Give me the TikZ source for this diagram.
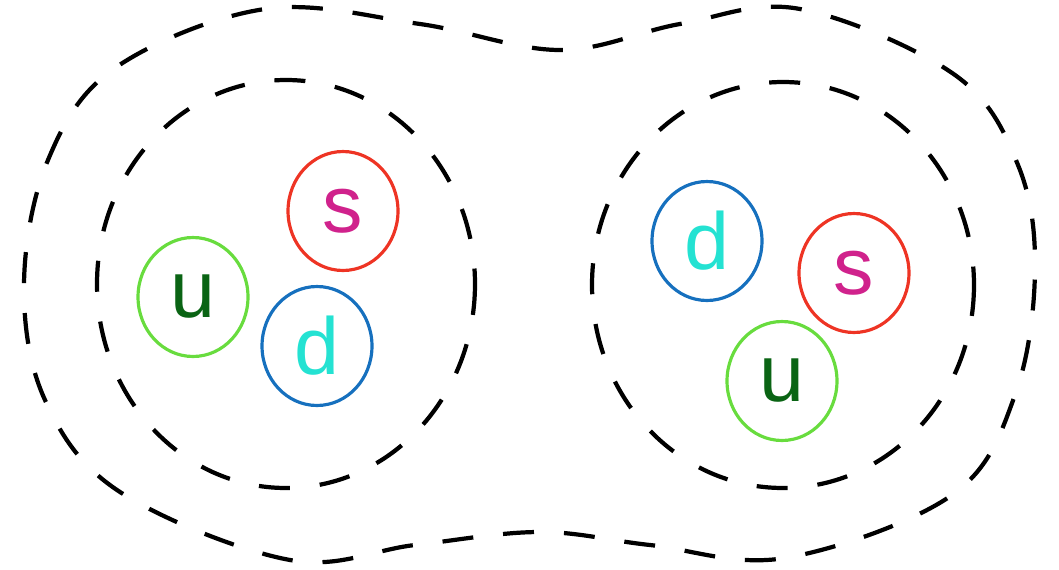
\documentclass[tikz,border=0pt]{standalone}
\usepackage{fontspec}
\setmainfont{Liberation Sans}
\usetikzlibrary{shapes.geometric}
\definecolor{ringred}{RGB}{238,52,36}
\definecolor{ringblue}{RGB}{22,112,190}
\definecolor{ringgreen}{RGB}{104,220,62}
\definecolor{textmag}{RGB}{208,34,140}
\definecolor{textcyan}{RGB}{36,226,210}
\definecolor{textgreen}{RGB}{10,100,20}

\begin{document}
\begin{tikzpicture}[
  x=0.02cm, y=-0.02cm,
  quark/.style={ellipse, line width=1.8pt, inner sep=0pt,
    minimum width=2.2cm, minimum height=2.38cm,
    font=\fontsize{46}{50}\selectfont},
  squark/.style={quark, draw=ringred, text=textmag},
  dquark/.style={quark, draw=ringblue, text=textcyan},
  uquark/.style={quark, draw=ringgreen, text=textgreen},
  ring/.style={draw=black, line width=2.4pt,
    dash pattern=on 0.62cm off 0.6cm}
]
\useasboundingbox (0,0) rectangle (1059,569);

% Outer peanut-shaped boundary
\draw[ring] plot[smooth cycle, tension=0.6] coordinates {
  (24,284) (48,160) (115,68) (265,9) (420,24) (560,50)
  (680,24) (800,9) (955,75) (1018,165) (1035,270) (1015,395)
  (952,495) (785,558) (650,545) (540,532) (415,545) (290,560)
  (120,492) (45,400)};

% Inner rings, one per baryon
\draw[ring] (286,284) ellipse [x radius=189, y radius=204];
\draw[ring] (783,285) ellipse [x radius=191, y radius=203];

% Left baryon
\node[squark] (s1) at (343,211) {s};
\node[uquark] (u1) at (193,297) {u};
\node[dquark] (d1) at (317,346) {d};

% Right baryon
\node[dquark] (d2) at (707,241) {d};
\node[squark] (s2) at (854,273) {s};
\node[uquark] (u2) at (782,381) {u};

\end{tikzpicture}
\end{document}
